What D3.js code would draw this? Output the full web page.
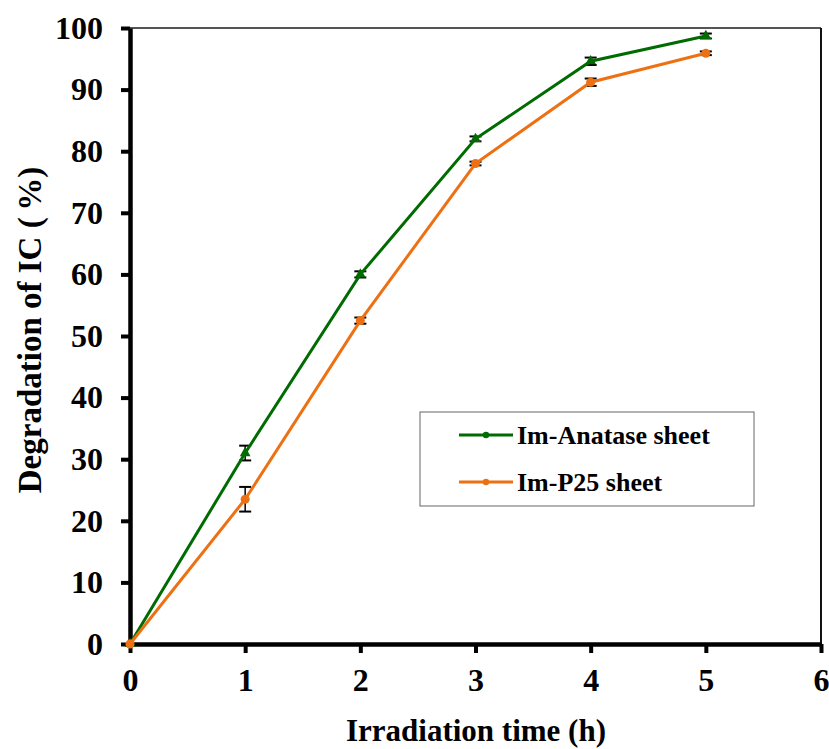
<!DOCTYPE html>
<html>
<head>
<meta charset="utf-8">
<script src="https://cdn.jsdelivr.net/npm/d3@7"></script>
<style>
  body { margin: 0; background: #fff; }
  text { font-family: "Liberation Serif", "Times New Roman", serif; font-weight: bold; }
</style>
</head>
<body>
<div id="chart"></div>
<script>
// data
const hours = [0, 1, 2, 3, 4, 5];
const anataseVals = [0, 31.0, 60.0, 82.0, 94.6, 98.7];
const anataseErr = [0, 1.2, 0.5, 0.4, 0.6, 0.4];
const p25Vals = [0, 23.5, 52.5, 78.0, 91.2, 95.9];
const p25Err = [0, 2.0, 0.5, 0.3, 0.6, 0.3];
const xTicks = [0, 1, 2, 3, 4, 5, 6];
const yTicks = [0, 10, 20, 30, 40, 50, 60, 70, 80, 90, 100];

const width = 829, height = 749;
const m = { left: 130, right: 8, top: 28, bottom: 105 };

const series = [
  { name: "Im-Anatase sheet", vals: anataseVals, err: anataseErr, color: "#006b00", marker: "tri" },
  { name: "Im-P25 sheet", vals: p25Vals, err: p25Err, color: "#ed7113", marker: "circle" }
];

const svg = d3.select("#chart").append("svg")
  .attr("width", width)
  .attr("height", height);

const x = d3.scaleLinear().domain([0, 6]).range([m.left, width - m.right]);
const y = d3.scaleLinear().domain([0, 100]).range([height - m.bottom, m.top]);

// plot area frame (top + right)
svg.append("line")
  .attr("x1", x(0)).attr("x2", x(6))
  .attr("y1", y(100)).attr("y2", y(100))
  .attr("stroke", "#555").attr("stroke-width", 2);
svg.append("line")
  .attr("x1", x(6)).attr("x2", x(6))
  .attr("y1", y(100)).attr("y2", y(0))
  .attr("stroke", "#111").attr("stroke-width", 2);

// axes
const xAxis = svg.append("g")
  .attr("transform", `translate(0,${y(0)})`)
  .call(d3.axisBottom(x).tickValues(xTicks).tickFormat(d3.format("d"))
    .tickSize(9).tickSizeOuter(0).tickPadding(15));
const yAxis = svg.append("g")
  .attr("transform", `translate(${x(0)},0)`)
  .call(d3.axisLeft(y).tickValues(yTicks).tickFormat(d3.format("d"))
    .tickSize(9).tickSizeOuter(0).tickPadding(18));

[xAxis, yAxis].forEach(g => {
  g.select(".domain").attr("stroke", "#000").attr("stroke-width", 4.5);
  g.selectAll(".tick line").attr("stroke", "#000").attr("stroke-width", 4);
  g.selectAll(".tick text")
    .attr("fill", "#000")
    .style("font-family", '"Liberation Serif", serif')
    .style("font-weight", "bold")
    .style("font-size", "32px");
});

// axis titles
svg.append("text")
  .attr("x", 476)
  .attr("y", 741)
  .attr("text-anchor", "middle")
  .style("font-size", "31px")
  .text("Irradiation time (h)");
svg.append("text")
  .attr("transform", "translate(41,330) rotate(-90)")
  .attr("text-anchor", "middle")
  .style("font-size", "33px")
  .text("Degradation of IC (\u2009%)");

const line = d3.line()
  .x((d, i) => x(hours[i]))
  .y(d => y(d));

const tri = d3.symbol().type(d3.symbolTriangle).size(50);

series.forEach(s => {
  const g = svg.append("g");
  // error bars
  s.vals.forEach((v, i) => {
    if (!s.err[i]) return;
    const cx = x(hours[i]);
    const e = g.append("g").attr("stroke", "#000").attr("stroke-width", 1.5);
    e.append("line").attr("x1", cx).attr("x2", cx)
      .attr("y1", y(v - s.err[i])).attr("y2", y(v + s.err[i]));
    [v - s.err[i], v + s.err[i]].forEach(t => {
      e.append("line").attr("x1", cx - 6).attr("x2", cx + 6)
        .attr("y1", y(t)).attr("y2", y(t)).attr("stroke-width", 2);
    });
  });
  g.append("path")
    .datum(s.vals)
    .attr("d", line)
    .attr("fill", "none")
    .attr("stroke", s.color)
    .attr("stroke-width", 3);
  s.vals.forEach((v, i) => {
    if (s.marker === "tri") {
      g.append("path")
        .attr("d", tri)
        .attr("transform", `translate(${x(hours[i])},${y(v)})`)
        .attr("fill", s.color);
    } else {
      g.append("circle")
        .attr("cx", x(hours[i])).attr("cy", y(v))
        .attr("r", 4.5).attr("fill", s.color);
    }
  });
});

// legend
const lg = svg.append("g").attr("transform", "translate(420,412)");
lg.append("rect")
  .attr("width", 334).attr("height", 94)
  .attr("fill", "#fff")
  .attr("stroke", "#666").attr("stroke-width", 1);
series.forEach((s, i) => {
  const ly = 23 + i * 47;
  lg.append("line")
    .attr("x1", 39).attr("x2", 93)
    .attr("y1", ly).attr("y2", ly)
    .attr("stroke", s.color).attr("stroke-width", 3);
  lg.append("circle")
    .attr("cx", 66).attr("cy", ly).attr("r", 3.2)
    .attr("fill", s.color);
  lg.append("text")
    .attr("x", 97).attr("y", ly)
    .attr("dy", "0.35em")
    .style("font-size", "26px")
    .text(s.name);
});
</script>
</body>
</html>
